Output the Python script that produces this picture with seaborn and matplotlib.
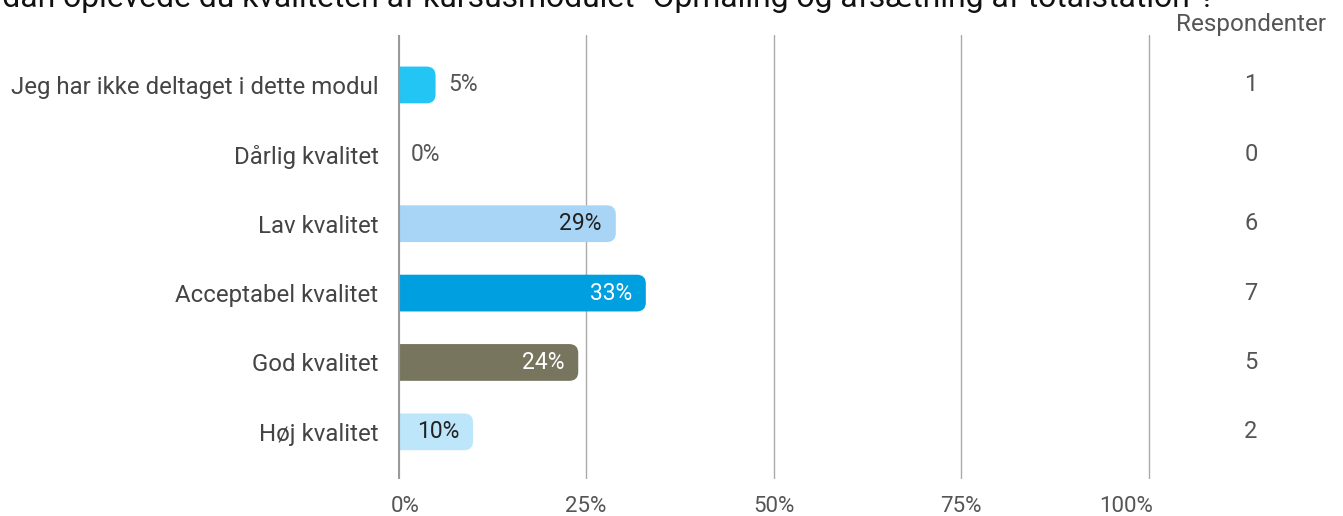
import matplotlib
matplotlib.use("Agg")
import matplotlib.pyplot as plt
import matplotlib.transforms as mtransforms
from matplotlib.patches import FancyBboxPatch
import seaborn as sns
import pandas as pd

categories = ["Jeg har ikke deltaget i dette modul", "Dårlig kvalitet", "Lav kvalitet",
              "Acceptabel kvalitet", "God kvalitet", "Høj kvalitet"]
respondents = [1, 0, 6, 7, 5, 2]
percent = [5, 0, 29, 33, 24, 10]
bar_colors = ["#22C5F3", "#22C5F3", "#A8D5F5", "#009FE0", "#78755F", "#BEE6FB"]
label_colors = ["#555555", "#555555", "#222222", "#FFFFFF", "#FFFFFF", "#222222"]
xticks = [0, 25, 50, 75, 100]
xtick_labels = ["0%", "25%", "50%", "75%", "100%"]
title_hidden = "Hvor"
title_visible = "dan oplevede du kvaliteten af kursusmodulet \"Opmåling og afsætning af totalstation\"?"
resp_header = "Respondenter"

sns.set_theme(style="white")
plt.rcParams["font.family"] = ["Roboto", "DejaVu Sans"]

W, H = 1343, 516
fig = plt.figure(figsize=(W / 100, H / 100), dpi=100)
px_per_unit = 7.51
x0_px, top_px, bot_px = 398, 35, 479
xmax = 105
ax = fig.add_axes([x0_px / W, (H - bot_px) / H, xmax * px_per_unit / W, (bot_px - top_px) / H])

df = pd.DataFrame({"cat": categories, "pct": percent})
sns.barplot(data=df, y="cat", x="pct", hue="cat", palette=bar_colors, legend=False,
            width=0.53, saturation=1, ax=ax, orient="h")

ax.set_xlim(0, xmax)
ax.set_ylim(5.68, -0.72)

# rounded right ends
row_px = (bot_px - top_px) / 6.4
rad_px = 9
for p in list(ax.patches):
    x, y = p.get_x(), p.get_y()
    w, h = p.get_width(), p.get_height()
    fc = p.get_facecolor()
    p.set_visible(False)
    if w <= 0:
        continue
    r_x = rad_px / px_per_unit
    aspect = (rad_px / row_px) / r_x
    fb = FancyBboxPatch((-3, y), w + 3, h,
                        boxstyle=f"round,pad=0,rounding_size={r_x}",
                        mutation_aspect=aspect, facecolor=fc, edgecolor="none",
                        clip_on=True, zorder=3)
    ax.add_patch(fb)

# gridlines
for t in xticks:
    if t == 0:
        ax.axvline(0, color="#999999", lw=3, zorder=4)
    else:
        ax.axvline(t, color="#AAAAAA", lw=1, zorder=1)

for s in ax.spines.values():
    s.set_visible(False)

ax.set_xlabel("")
ax.set_ylabel("")
ax.set_xticks(xticks)
ax.set_xticklabels(xtick_labels)
ax.tick_params(axis="x", length=0, pad=12, labelsize=16, labelcolor="#555555")
ax.tick_params(axis="y", length=0, pad=14, labelsize=17.3, labelcolor="#444444")
tl = ax.get_xticklabels()
tl[0].set_transform(tl[0].get_transform() + mtransforms.ScaledTranslation(7.5 / 100, 0, fig.dpi_scale_trans))
tl[-1].set_transform(tl[-1].get_transform() + mtransforms.ScaledTranslation(-22.5 / 100, 0, fig.dpi_scale_trans))

# value labels
pad_units = 14 / px_per_unit
for i, v in enumerate(percent):
    txt = f"{round(v)}%"
    if v >= 8:
        ax.text(v - pad_units, i, txt, ha="right", va="center", fontsize=16.5,
                color=label_colors[i], zorder=5)
    else:
        ax.text(v + 13 / px_per_unit, i, txt, ha="left", va="center", fontsize=16.5,
                color=label_colors[i], zorder=5)

# respondents column
col_x = 1251 / W
trans = mtransforms.blended_transform_factory(fig.transFigure, ax.transData)
for i, n in enumerate(respondents):
    ax.text(col_x, i, str(n), transform=trans, ha="center", va="center",
            fontsize=17, color="#555555", clip_on=False)
fig.text(col_x, 1 - 24 / H, resp_header, ha="center", va="center", fontsize=17.5, color="#555555")

# title: fit the visible part between x=2 and x=1217 px, hidden prefix off canvas
renderer = fig.canvas.get_renderer()
fs = 21.6
probe = fig.text(0, 0, title_visible, fontsize=fs)
wv = probe.get_window_extent(renderer).width
fs = fs * (1215 / wv)
probe.remove()
probe = fig.text(0, 0, title_hidden, fontsize=fs)
wh = probe.get_window_extent(renderer).width
probe.remove()
fig.text((2 - wh) / W, 1 - 7 / H, title_hidden + title_visible, ha="left", va="baseline",
         fontsize=fs, color="#111111")

fig.savefig("out.png", dpi=100, facecolor="white")
